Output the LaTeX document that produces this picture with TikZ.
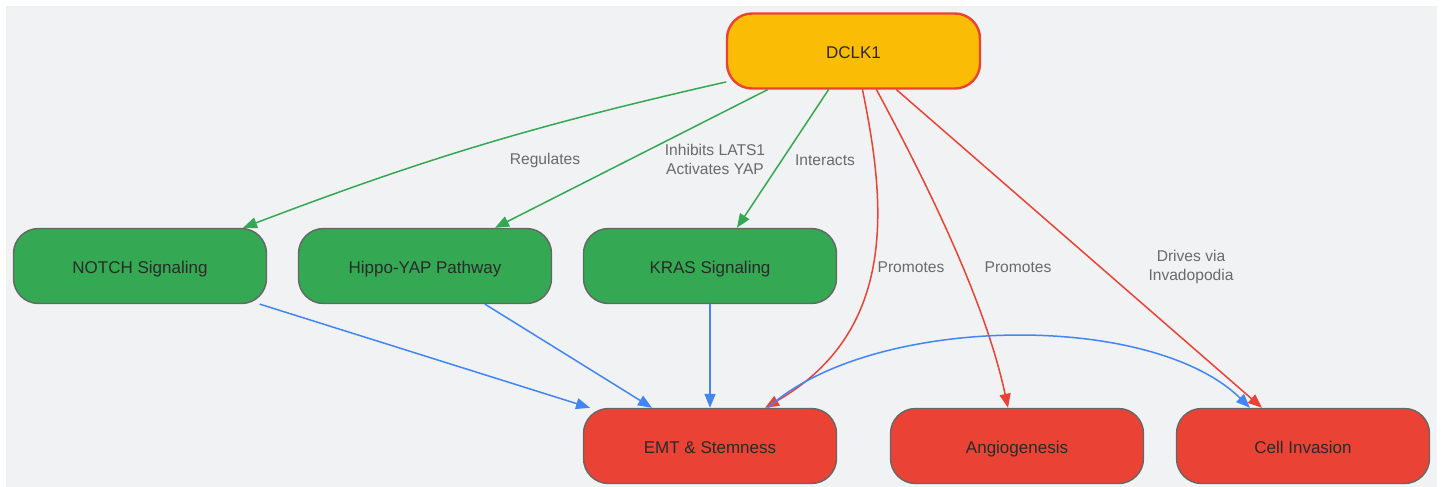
\documentclass[tikz,border=0pt]{standalone}
\usepackage{fontspec}
\setmainfont{Liberation Sans}
\usetikzlibrary{arrows.meta}
\definecolor{bggray}{HTML}{F1F2F4}
\definecolor{dgold}{HTML}{FBBC05}
\definecolor{dred}{HTML}{EA4335}
\definecolor{dgreen}{HTML}{34A853}
\definecolor{dblue}{HTML}{4285F4}
\definecolor{bordergray}{HTML}{666666}
\definecolor{labelgray}{HTML}{6A6A6A}
\definecolor{textdark}{HTML}{2A2A2A}
\begin{document}
\begin{tikzpicture}[x=1pt, y=-1pt, line cap=round, line join=round, >={Triangle[length=14pt,width=11pt]}]
	\tikzset{box/.style={draw=bordergray, line width=1.4pt, rounded corners=25pt, minimum width=253pt, minimum height=75pt, inner sep=0pt, text height=14.5pt, text depth=0pt, font=\fontsize{17}{20}\selectfont, text=textdark},
		lbl/.style={font=\fontsize{15.6}{19}\selectfont, text=labelgray, align=center},
		link/.style={->, line width=1.5pt}}
	\useasboundingbox (0,0) rectangle (1443,487);
	\fill[bggray] (6,6) rectangle (1437,487);
	% nodes
	\node[box, fill=dgold, draw=dred, line width=2.4pt] (dclk) at (853.5,51) {DCLK1};
	\node[box, fill=dgreen] (notch) at (140,266) {NOTCH Signaling};
	\node[box, fill=dgreen] (hippo) at (425,266) {Hippo-YAP Pathway};
	\node[box, fill=dgreen] (kras) at (710,266) {KRAS Signaling};
	\node[box, fill=dred] (emt) at (710,446) {EMT \& Stemness};
	\node[box, fill=dred] (angio) at (1017,446) {Angiogenesis};
	\node[box, fill=dred] (invasion) at (1303,446) {Cell Invasion};
	% edges from DCLK1
	\draw[link, dgreen] ([yshift=-31pt]dclk.west) to[bend right=4] ([xshift=103pt]notch.north);
	\draw[link, dgreen] ([xshift=-86pt]dclk.south) -- ([xshift=70pt]hippo.north);
	\draw[link, dgreen] ([xshift=-25pt]dclk.south) -- ([xshift=27pt]kras.north);
	\draw[link, dred] ([xshift=9pt]dclk.south) .. controls (885,200) and (900,330) .. ([xshift=55pt]emt.north);
	\draw[link, dred] ([xshift=23pt]dclk.south) .. controls (925,180) and (985,300) .. ([xshift=-9pt]angio.north);
	\draw[link, dred] ([xshift=43pt]dclk.south) -- ([xshift=-41pt]invasion.north);
	% edges into EMT
	\draw[link, dblue] ([xshift=120pt]notch.south) -- ([xshift=-120pt]emt.north);
	\draw[link, dblue] ([xshift=60pt]hippo.south) -- ([xshift=-58pt]emt.north);
	\draw[link, dblue] (kras.south) -- (emt.north);
	\draw[link, dblue] ([xshift=58pt]emt.north) .. controls (870,315) and (1150,310) .. ([xshift=-53pt]invasion.north);
	% edge labels
	\node[lbl] (lregulates) at (545,160) {Regulates};
	\node[lbl] (linhibits) at (715,159) {Inhibits LATS1\\Activates YAP};
	\node[lbl] (linteracts) at (825,160) {Interacts};
	\node[lbl] (lpromemt) at (911,267) {Promotes};
	\node[lbl] (lpromangio) at (1018,267) {Promotes};
	\node[lbl] (ldrives) at (1191,267) {Drives via\\Invadopodia};
\end{tikzpicture}
\end{document}
